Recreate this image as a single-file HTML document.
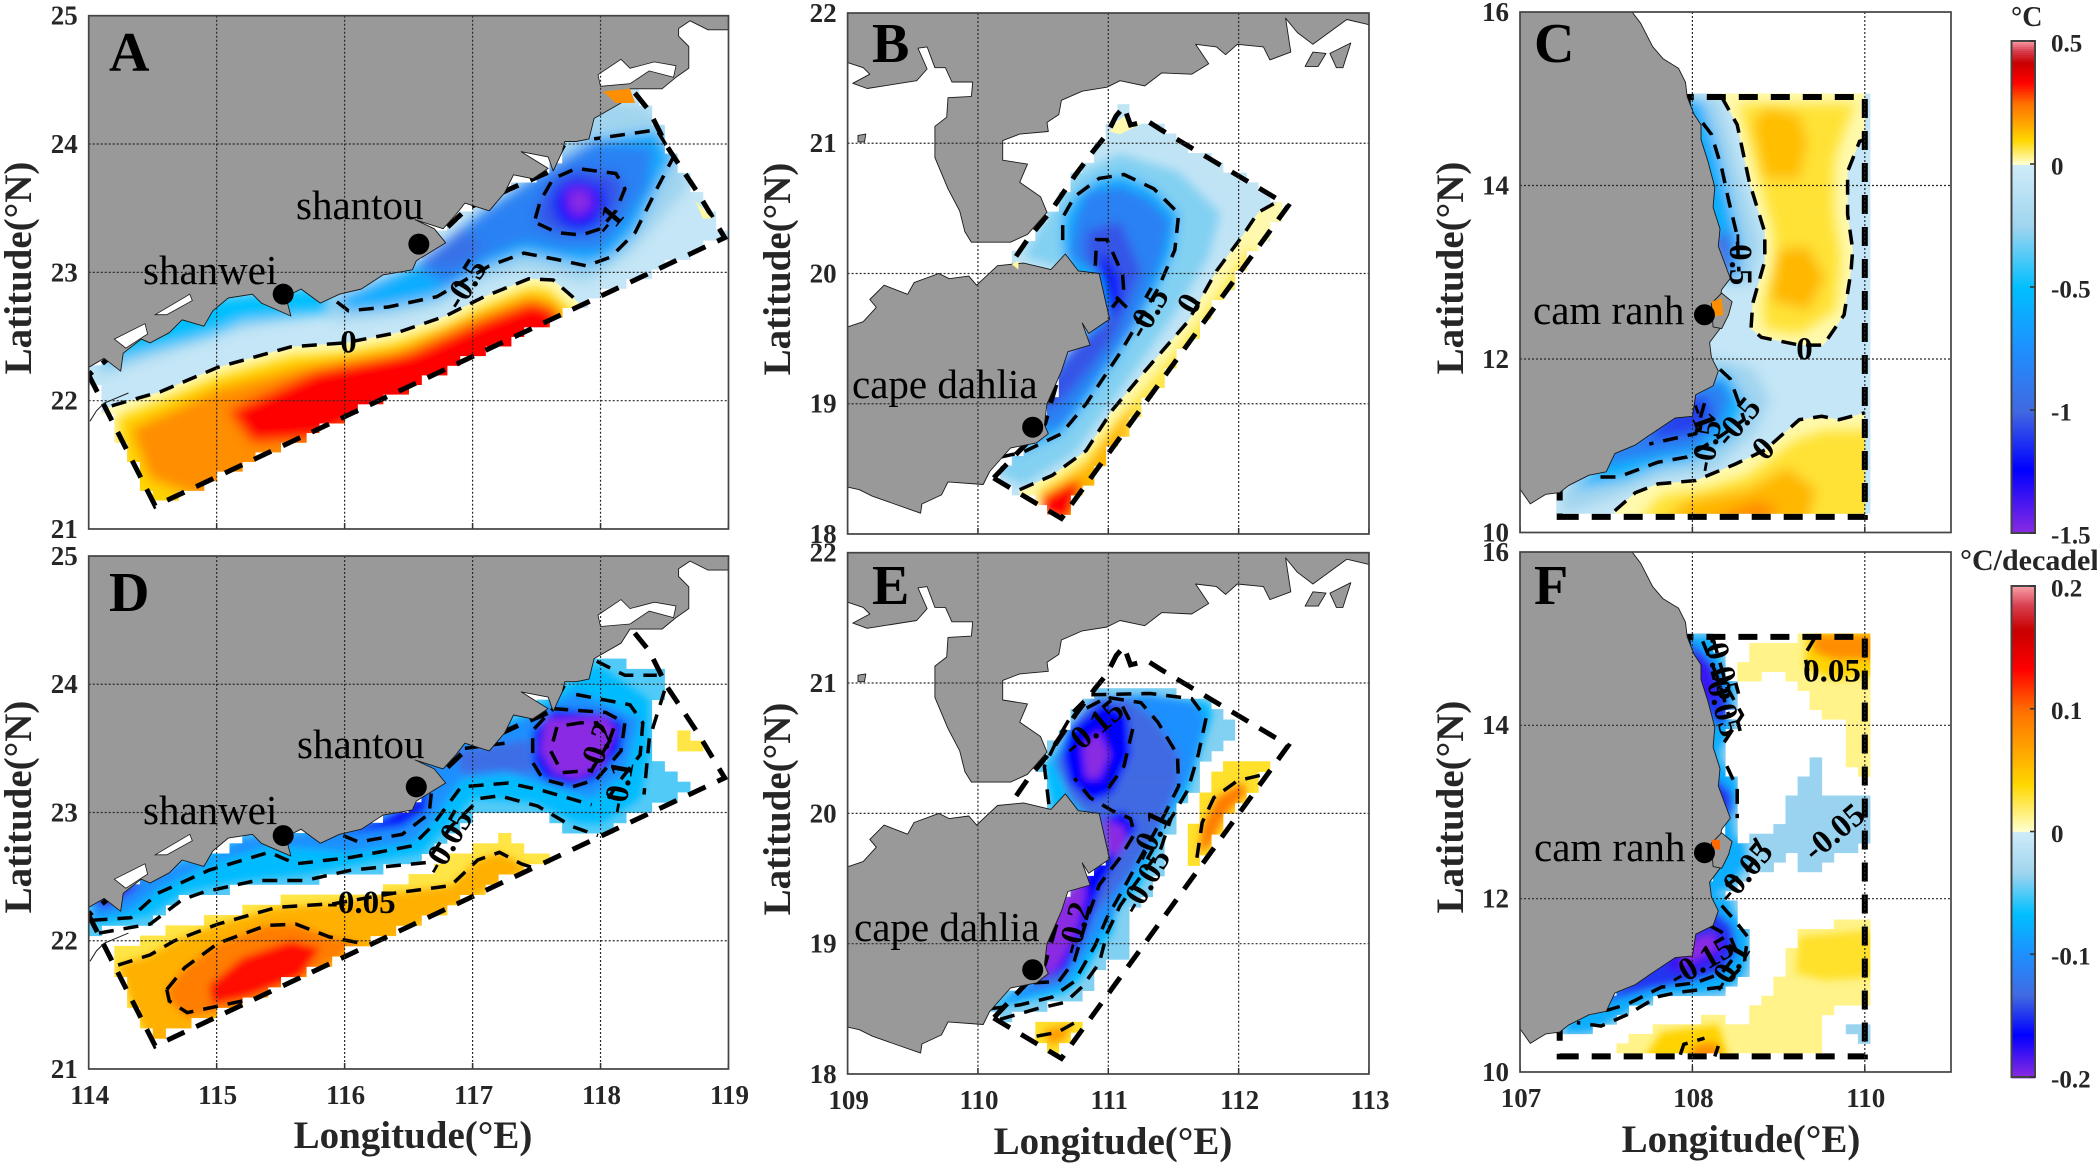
<!DOCTYPE html>
<html lang="en">
<head>
<meta charset="utf-8">
<title>Coastal SST anomaly and trend maps</title>
<style>
html,body{margin:0;padding:0;background:#fff;}
svg{display:block;font-family:"Liberation Serif",serif;}
.axis-title{font-size:39px;font-weight:bold;fill:#262626;}
.letter{font-size:56px;font-weight:bold;fill:#000;}
.city{font-size:41px;fill:#000;}
.unit{font-weight:bold;fill:#262626;}
</style>
</head>
<body>
<svg id="figure" xmlns="http://www.w3.org/2000/svg" width="2097" height="1163" viewBox="0 0 2097 1163">
<rect x="0" y="0" width="2097" height="1163" fill="#fff"/>
<defs id="defs"></defs>
<g id="plots"></g>
<g id="colorbars"></g>
<g>
<text class="letter" x="109" y="71">A</text>
<text class="letter" x="872" y="62">B</text>
<text class="letter" x="1534" y="62">C</text>
<text class="letter" x="109" y="611">D</text>
<text class="letter" x="872" y="604">E</text>
<text class="letter" x="1534" y="604">F</text>
<text class="city" x="143" y="284">shanwei</text>
<text class="city" x="296" y="219">shantou</text>
<text class="city" x="143" y="824">shanwei</text>
<text class="city" x="297" y="758">shantou</text>
<text class="city" x="852" y="398">cape dahlia</text>
<text class="city" x="854" y="941">cape dahlia</text>
<text class="city" x="1533" y="324">cam ranh</text>
<text class="city" x="1534" y="861">cam ranh</text>
<text class="axis-title" text-anchor="middle" transform="translate(31,268) rotate(-90)">Latitude(°N)</text>
<text class="axis-title" text-anchor="middle" transform="translate(31,807) rotate(-90)">Latitude(°N)</text>
<text class="axis-title" text-anchor="middle" transform="translate(790,269) rotate(-90)">Latitude(°N)</text>
<text class="axis-title" text-anchor="middle" transform="translate(790,809) rotate(-90)">Latitude(°N)</text>
<text class="axis-title" text-anchor="middle" transform="translate(1463,268) rotate(-90)">Latitude(°N)</text>
<text class="axis-title" text-anchor="middle" transform="translate(1463,807) rotate(-90)">Latitude(°N)</text>
<text class="axis-title" text-anchor="middle" x="413" y="1148">Longitude(°E)</text>
<text class="axis-title" text-anchor="middle" x="1113" y="1154">Longitude(°E)</text>
<text class="axis-title" text-anchor="middle" x="1741" y="1152">Longitude(°E)</text>
<text class="unit" x="2011" y="26" font-size="28">°C</text>
<text class="unit" x="1960" y="570" font-size="30">°C/decadel</text>
</g>
</svg>
<script>
/* ---------- colour scale ---------- */
const coldStops=[[0,'#d0ecf8'],[.17,'#9fd4ef'],[.336,'#00bfff'],[.5,'#1e90ff'],[.67,'#4169e1'],[.83,'#0000ff'],[1,'#8a2be2']];
const warmStops=[[0,'#ffffd0'],[.06,'#fff38a'],[.19,'#ffd700'],[.33,'#ffa500'],[.49,'#ff7000'],[.66,'#ff0000'],[.82,'#c80000'],[.92,'#d84050'],[1,'#f8a0a8']];

/* ---------- tick values and labels ---------- */
const lonTicksAD=[114,115,116,117,118,119];
const latTicksAD=[21,22,23,24,25];
const lonTicksBE=[109,110,111,112,113];
const latTicksBE=[18,19,20,21,22];
const lonTicksCF=[107,108,109];
const latTicksCF=[10,12,14,16];
const lonLabelsD=['114','115','116','117','118','119'];
const lonLabelsE=['109','110','111','112','113'];
const lonLabelsF=['107','108','110'];
const latLabelsAD=['21','22','23','24','25'];
const latLabelsBE=['18','19','20','21','22'];
const latLabelsCF=['10','12','14','16'];
const cbTicksTemp=[0.5,0,-0.5,-1,-1.5];
const cbLabelsTemp=['0.5','0','-0.5','-1','-1.5'];
const cbTicksTrend=[0.2,0.1,0,-0.1,-0.2];
const cbLabelsTrend=['0.2','0.1','0','-0.1','-0.2'];

/* ---------- land (lon,lat pairs) ---------- */
const landAD=[114,22.26,114.12,22.33,114.25,22.23,114.27,22.37,114.41,22.48,114.48,22.45,114.63,22.53,114.73,22.63,114.90,22.58,114.97,22.70,115.09,22.80,115.28,22.83,115.35,22.76,115.58,22.66,115.54,22.81,115.66,22.87,115.81,22.76,115.96,22.83,116.13,22.87,116.30,22.98,116.53,23.02,116.56,23.09,116.79,23.23,116.70,23.34,116.55,23.41,116.77,23.34,116.87,23.45,116.94,23.54,117.13,23.48,117.25,23.62,117.32,23.76,117.47,23.73,117.59,23.81,117.38,23.94,117.59,23.90,117.63,23.79,117.70,23.94,117.72,24.02,117.81,24.02,117.91,24.04,117.95,24.20,118.16,24.32,118.23,24.43,118.48,24.43,118.59,24.52,118.69,24.59,118.69,24.76,118.61,24.84,118.61,24.90,118.70,24.96,118.84,24.89,119,24.89,119,25,114,25];
const bayAD1=[117.98,24.54,118.16,24.66,118.23,24.59,118.42,24.64,118.59,24.61,118.57,24.52,118.38,24.57,118.23,24.47,118.00,24.45];
const bayAD2=[114.52,22.67,114.79,22.83,114.81,22.78,114.61,22.67];
const bayAD3=[114.2,22.48,114.44,22.6,114.46,22.52,114.29,22.41];
const coastFragAD=[114.01,21.84,114.06,21.92,114.12,21.98,114.31,22.06];
const landNorthBE=[109,22,109,21.62,109.12,21.58,109.17,21.53,109.04,21.46,109.15,21.42,109.53,21.48,109.61,21.57,109.54,21.73,109.61,21.74,109.67,21.58,109.75,21.58,109.80,21.47,109.96,21.47,109.95,21.36,109.77,21.35,109.76,21.20,109.67,21.13,109.67,20.89,109.77,20.65,109.86,20.48,109.90,20.32,109.95,20.24,110.12,20.24,110.25,20.24,110.38,20.30,110.53,20.47,110.48,20.59,110.32,20.70,110.38,20.84,110.19,20.87,110.19,21.02,110.32,21.07,110.54,21.09,110.53,21.16,110.62,21.22,110.64,21.33,110.80,21.40,110.99,21.43,111.09,21.48,111.28,21.44,111.41,21.54,111.64,21.53,111.77,21.61,111.67,21.76,111.83,21.74,111.90,21.68,111.99,21.76,112.19,21.74,112.24,21.64,112.40,21.70,112.36,21.96,112.45,21.85,112.57,21.76,112.83,21.95,113,21.91,113,22];
const landHainan=[109,19.59,109.12,19.63,109.22,19.74,109.17,19.80,109.28,19.91,109.46,19.84,109.51,19.93,109.70,20.00,109.78,19.96,109.93,19.98,109.99,19.91,110.15,20.06,110.35,20.08,110.56,20.03,110.67,20.15,110.77,20.02,110.93,20.00,111.01,19.65,110.85,19.54,110.80,19.62,110.86,19.45,110.69,19.40,110.64,19.25,110.53,19.00,110.51,18.84,110.54,18.77,110.45,18.70,110.25,18.66,110.09,18.48,110.04,18.38,109.77,18.40,109.72,18.30,109.57,18.23,109.56,18.16,109.36,18.23,109.19,18.29,109.09,18.34,109,18.36];
const isleBE1=[112.51,21.59,112.57,21.70,112.67,21.69,112.61,21.59];
const isleBE2=[112.70,21.69,112.86,21.77,112.80,21.58,112.75,21.58];
const isleBE3=[109.08,21.06,109.14,21.07,109.13,21.01,109.08,21.01];
const landCF=[107,16,107.65,16,107.70,15.87,107.77,15.60,107.83,15.46,107.92,15.35,107.96,15.19,107.97,15.02,108.01,14.82,108.05,14.70,108.05,14.53,108.09,14.28,108.13,13.98,108.12,13.75,108.16,13.50,108.15,13.30,108.22,12.93,108.17,12.80,108.15,12.60,108.16,12.35,108.10,12.19,108.11,12.02,108.15,11.86,108.12,11.69,108.02,11.59,108.00,11.34,107.90,11.32,107.75,11.12,107.67,11.01,107.55,10.91,107.50,10.70,107.40,10.66,107.28,10.54,107.23,10.46,107.15,10.44,107.06,10.33,107,10.50];
const isleCamRanh=[108.11,12.64,108.17,12.76,108.23,12.66,108.21,12.51,108.17,12.35,108.12,12.37];

/* ---------- study-domain boundaries ---------- */
const boundaryAD=[114,22.20,114.52,21.18,118.97,23.27,118.76,23.62,118.52,23.98,118.38,24.26,118.21,24.47,117.97,24.44,117.59,23.78,117.36,23.68,116.96,23.5,116.56,23.12,115.96,22.9,115.2,22.9,114.67,22.66,114.37,22.51];
const boundaryBE=[110.12,18.43,110.64,18.12,112.38,20.52,112.30,20.57,111.41,21.10,111.30,21.17,111.17,21.14,111.12,21.28,111.06,21.21,110.99,21.07,110.90,20.96,110.75,20.76,110.56,20.48,110.38,20.26,110.25,20.07,110.51,19.63,110.61,19.19,110.51,18.84];
const boundaryCF=[107.23,10.18,109,10.18,109,15.02,107.97,15.02,108.10,12.5,107.23,10.5];

/* ---------- panel A: temperature anomaly ---------- */
const contourA0=[114.18,21.96,114.56,22.07,115.01,22.26,115.58,22.42,116.00,22.45,116.41,22.53,116.79,22.66,117.09,22.81,117.44,22.95,117.63,22.94,117.78,22.81,117.85,22.74];
const contourAm05=[115.94,22.77,116.03,22.70,116.34,22.73,116.72,22.81,117.13,23.05,117.40,23.15,117.66,23.10,117.89,23.05,118.08,23.12,118.27,23.31,118.44,23.65,118.57,23.90,118.44,24.11,118.16,24.07,117.95,24.04];
const contourAm1=[117.49,23.42,117.53,23.56,117.63,23.73,117.81,23.81,118.12,23.77,118.19,23.65,118.12,23.48,118.00,23.34,117.85,23.29,117.66,23.31,117.51,23.38];
const warmA012=[114.22,21.87,114.56,22.00,115.01,22.19,115.58,22.35,116.00,22.38,116.41,22.46,116.79,22.59,117.09,22.74,117.44,22.88,117.59,22.87,117.74,22.73,117.85,22.67,114.52,21.09,114.29,21.36];
const warmA02=[114.33,21.78,115.01,22.09,115.66,22.26,116.41,22.38,117.02,22.65,117.44,22.81,117.63,22.76,117.74,22.62,117.09,22.06,115.96,21.62,114.90,21.23,114.48,21.39];
const warmA03=[115.09,21.92,115.77,22.23,116.53,22.38,117.09,22.63,117.47,22.77,117.66,22.70,117.66,22.45,116.72,22.06,115.77,21.70,115.28,21.67];
const coldAm025=[114.03,22.17,114.44,22.31,115.20,22.56,115.81,22.67,115.96,22.62,116.34,22.65,116.72,22.73,117.13,22.95,117.40,23.02,117.66,22.98,117.89,22.92,118.23,23.15,118.46,23.40,118.69,23.67,118.61,23.93,118.38,24.29,118.00,24.34,117.47,23.73,116.56,23.06,115.96,22.84,114.97,22.73,114.37,22.53];
const coldAm042=[114.06,22.26,114.44,22.38,114.97,22.52,115.20,22.62,115.88,22.68,115.88,22.90,114.97,22.80,114.37,22.60];
const coldAm05=[...contourAm05,117.59,23.81,116.56,23.06,115.96,22.80];
const coldAm075=[116.56,23.06,116.79,22.90,117.13,23.12,117.40,23.23,117.70,23.17,118.00,23.17,118.19,23.37,118.38,23.67,118.42,23.98,117.93,24.01,117.55,23.79,117.09,23.48];
const coldAm09=[116.55,23.05,116.91,23.05,117.09,23.20,116.91,23.34,116.79,23.23];
const coldAm125=[117.63,23.54,117.68,23.67,117.81,23.73,118.00,23.67,118.04,23.54,117.95,23.37,117.81,23.33,117.68,23.40];
const coldAm15=[117.74,23.65,117.91,23.65,117.95,23.51,117.81,23.42,117.74,23.51];
const spotA1=[118.02,24.41,118.23,24.43,118.27,24.32,118.12,24.32];
const spotA2=[118.74,23.56,118.80,23.42,118.87,23.42];

/* ---------- panel B ---------- */
const contourB0=[110.32,18.34,110.57,18.45,110.83,18.64,111.03,18.95,111.28,19.25,111.61,19.63,111.83,20.02,112.03,20.29,112.15,20.47,112.33,20.57];
const contourBm05=[110.17,18.59,110.35,18.63,110.64,18.77,110.83,19.00,111.09,19.39,111.38,19.88,111.51,20.18,111.54,20.46,111.35,20.65,111.12,20.76,110.93,20.73,110.74,20.59,110.65,20.43,110.65,20.21];
const contourBm1=[110.90,20.06,110.91,20.26,110.99,20.26,111.11,19.99,111.12,19.85,111.03,19.74];
const contourBm1b=[111.06,19.82,111.15,19.73];
const warmB01=[110.45,18.33,110.80,18.56,111.03,18.84,111.32,19.17,111.64,19.55,111.90,19.93,112.09,20.21,112.12,20.13,111.80,19.55,111.45,18.95,111.03,18.45,110.77,18.1,110.57,18.1];
const warmB02=[110.48,18.30,110.83,18.53,110.99,18.74,111.2,19.0,111.1,18.6,110.77,18.1,110.57,18.15];
const warmB03=[110.48,18.28,110.72,18.40,110.8,18.4,110.7,18.1,110.55,18.12];
const warmBtop=[111.01,21.09,111.07,21.17,111.14,21.22,111.17,21.17,111.28,21.16,111.09,21.07];
const coldBm025=[110.12,18.48,110.35,18.37,110.74,18.62,110.96,18.92,111.22,19.28,111.51,19.69,111.77,20.13,111.86,20.46,111.54,20.78,111.09,20.92,110.74,20.76,110.51,20.40,110.35,20.13,110.70,20.02,110.85,19.55,110.6,19.3,110.45,19.0,110.4,18.70];
const coldBm05=[...contourBm05,110.70,20.02,110.90,19.75,110.8,19.5,110.6,19.3,110.45,19.0,110.4,18.70];
const coldBm075=[110.54,18.77,110.67,18.86,110.93,19.22,111.19,19.58,111.41,20.10,111.48,20.40,111.32,20.57,111.09,20.67,110.83,20.62,110.74,20.40,110.70,20.13,110.99,19.96,110.98,19.65,110.75,19.45,110.55,19.2,110.45,18.95];
const coldBm095=[110.51,18.92,110.70,19.08,110.93,19.36,111.06,19.55,111.25,20.02,111.09,20.40,110.83,20.32,110.83,20.10,111.01,19.91,110.98,19.65,110.7,19.4,110.5,19.1];
const coldBm11=[110.93,20.02,110.96,20.18,111.09,19.96,111.09,19.74,111.01,19.69];
const spotB=[110.26,20.07,110.31,20.10,110.31,20.03];

/* ---------- panel C ---------- */
const contourC0N=[108.17,15.02,108.26,14.70,108.33,14.04,108.42,13.46,108.42,13.13,108.35,12.64,108.34,12.35,108.40,12.25,108.62,12.16,108.76,12.16,108.88,12.51,108.92,13.01,108.93,13.26,108.90,13.67,108.90,14.16,108.97,14.51,109,14.53];
const contourC0S=[107.55,10.25,107.67,10.46,107.80,10.56,108.02,10.60,108.25,10.79,108.42,10.95,108.62,11.30,108.75,11.34,108.85,11.30,109,11.38];
const contourCm05N=[108.06,14.72,108.11,14.59,108.17,14.20,108.21,13.83,108.26,13.42,108.27,13.01];
const contourCm05S=[108.16,11.88,108.22,11.77,108.27,11.49,108.30,11.30,108.17,11.12,107.97,10.87,107.80,10.81,107.57,10.64,107.42,10.64];
const contourCm1=[108.07,11.49,108.02,11.14,107.75,11.02];
const warmCN01=[108.27,14.94,108.36,14.28,108.47,13.46,108.48,13.13,108.41,12.64,108.42,12.35,108.62,12.29,108.83,12.56,108.86,13.17,108.82,13.67,108.82,14.28,108.90,14.74,108.95,14.94];
const warmCpeak1=[108.35,14.70,108.42,14.08,108.62,14.08,108.67,14.49,108.62,14.82,108.42,14.90];
const warmCpeak2=[108.50,13.26,108.45,12.68,108.67,12.56,108.77,12.93,108.67,13.30];
const warmCS01=[107.72,10.21,107.82,10.43,108.07,10.50,108.32,10.66,108.60,11.07,108.77,11.18,109.1,11.18,109.1,10.1,107.72,10.1];
const warmCS02=[107.82,10.1,107.97,10.37,108.32,10.50,108.55,10.75,108.72,10.50,108.67,10.1];
const warmCS025=[108.02,10.1,108.37,10.37,108.50,10.29,108.42,10.1];
const coldCNm025=[107.97,15.02,108.15,15.02,108.22,14.57,108.32,13.83,108.40,13.34,108.35,12.88,108.22,12.84,108.15,13.30,108.07,14.49];
const coldCNm05=[107.9,15.00,108.05,14.98,108.15,14.41,108.22,13.83,108.28,13.34,108.27,12.97,108.22,12.88,108.08,13.46,107.98,14.49];
const coldCNm09=[108.1,13.42,108.22,13.46,108.23,12.97,108.17,12.97];
const coldCSm025=[107.25,10.21,107.50,10.37,107.82,10.62,108.12,10.70,108.37,11.16,108.45,11.53,108.35,11.90,108.12,12.02,107.25,10.50];
const coldCSm05=[107.30,10.50,107.60,10.60,107.82,10.77,108.02,10.83,108.22,11.09,108.32,11.44,108.20,11.86,108.05,11.77,107.95,11.59,107.65,11.12];
const coldCSm075=[107.45,10.75,107.82,10.89,108.02,10.95,108.17,11.24,108.23,11.57,108.15,11.77,107.95,11.61,107.7,11.2,107.45,10.95];
const coldCSm105=[107.72,11.05,108.02,11.14,108.12,11.36,108.07,11.59,107.95,11.53,107.85,11.36];
const spotC=[108.11,12.66,108.17,12.70,108.18,12.51,108.13,12.49];

/* ---------- panel D: trend ---------- */
const maskColdD=[114.08,22.07,114.48,22.13,114.75,22.32,115.20,22.41,115.73,22.46,116.19,22.55,116.60,22.60,116.94,22.88,117.02,23.02,117.47,23.02,117.63,22.96,117.81,22.83,118.00,22.83,118.31,23.02,118.72,23.19,118.50,23.36,118.42,23.45,118.42,23.88,118.50,23.98,118.50,24.09,118.04,24.19,117.93,24.23,117.47,23.82,116.56,23.42,116.56,23.08,116.11,22.89,115.20,22.80,114.97,22.65,114.71,22.65,114.41,22.49,114.01,22.34,114.03,22.07];
const maskWarmD=[114.18,21.92,114.67,22.09,114.94,22.16,115.47,22.32,116.38,22.41,116.91,22.68,117.04,22.77,117.27,22.82,117.40,22.68,117.59,22.66,117.47,22.57,117.32,22.52,116.94,22.34,116.75,22.21,116.38,22.09,116.07,21.93,115.66,21.73,115.20,21.53,114.97,21.44,114.52,21.22,114.46,21.31,114.33,21.53,114.23,21.79];
const maskWarmD2=[118.63,23.71,118.72,23.57,118.84,23.44,118.69,23.44,118.59,23.61];
const contourDw005=[114.23,21.81,114.48,21.89,114.67,22.00,115.01,22.13,115.47,22.26,115.92,22.29,116.38,22.37,116.83,22.43,117.04,22.63,117.21,22.69,117.38,22.60,117.47,22.57];
const contourDw01=[114.61,21.62,114.75,21.79,115.01,21.98,115.39,22.12,115.62,22.13,115.88,22.03,116.13,21.98];
const contourDw01b=[115.20,21.53,114.77,21.44,114.63,21.53,114.61,21.62];
const contourDc1=[114.08,22.06,114.48,22.13,114.73,22.32,114.90,22.38,115.31,22.47,115.69,22.47,116.05,22.55,116.64,22.61,116.83,22.89,117.06,23.11,117.21,23.13,117.51,23.05,117.78,22.89,117.98,22.82];
const contourDc2=[114.03,22.16,114.33,22.18,114.54,22.37,114.94,22.55,115.41,22.69,115.62,22.60,116.05,22.65,116.53,22.74,116.68,22.89,116.91,23.20,117.28,23.23,117.55,23.17,117.93,23.06];
const contourDc3=[115.99,22.82,116.11,22.77,116.45,22.83,116.66,22.99,116.68,23.17];
const contourDc4=[117.81,23.92,118.23,23.84,118.33,23.70,118.31,23.45,118.16,23.26,118.06,23.11];
const contourDring=[117.63,23.81,118.04,23.78,118.19,23.70,118.16,23.48,117.97,23.26,117.78,23.20,117.55,23.26,117.47,23.39,117.47,23.64];
const contourDinner=[117.85,23.70,117.66,23.67,117.61,23.48,117.70,23.31,117.93,23.33,118.08,23.57,117.97,23.70];
const contourDright=[118.50,23.95,118.38,23.57,118.34,23.14];
const contourDtop=[117.97,24.18,118.19,24.07,118.44,24.07];
const contourDbit=[116.94,23.50,117.25,23.54];
const warmD06=[...contourDw005,116.94,22.30,116.07,21.85,115.20,21.45,114.52,21.12,114.33,21.53];
const warmD10=[...contourDw01,115.66,21.68,115.20,21.48,114.77,21.40,114.63,21.53];
const warmD14=[114.94,21.65,115.20,21.87,115.58,22.0,115.81,21.94,115.66,21.72,115.24,21.56,114.97,21.50];
const coldDm07=[114.12,22.13,114.48,22.20,114.75,22.38,115.20,22.47,115.73,22.52,116.19,22.61,116.60,22.68,116.87,22.96,117.00,23.11,117.47,23.08,117.81,22.92,118.00,22.91,118.31,23.11,118.38,23.45,118.38,23.88,117.97,24.16,117.47,23.79,116.56,23.42,116.56,23.08,116.11,22.89,115.20,22.80,114.03,22.34,114.03,22.15];
const coldDm10=[114.03,22.16,114.33,22.24,114.54,22.40,114.94,22.60,115.41,22.74,116.05,22.69,116.53,22.77,116.68,22.92,116.91,23.26,117.28,23.30,117.93,23.11,118.19,23.30,118.31,23.73,117.81,23.95,117.47,23.76,116.56,23.42,116.56,23.08,116.11,22.89,115.20,22.80,114.97,22.65,114.71,22.61,114.41,22.49,114.03,22.34];
const coldDm13=[116.87,23.48,117.44,23.57,117.47,23.30,117.21,23.33,116.91,23.30];
const coldDm16=[115.95,22.83,116.45,22.89,116.64,23.02,116.66,23.20,116.56,23.10,116.30,22.95,116.11,22.89];
const coldDm22=[117.57,23.73,118.04,23.75,118.12,23.64,118.00,23.36,117.81,23.26,117.63,23.31,117.53,23.48];
const coldDwest=[114.03,22.31,114.14,22.26,114.37,22.40,114.41,22.46,114.06,22.34];

/* ---------- panel E ---------- */
const maskColdE=[110.17,18.42,110.67,18.55,110.77,18.59,110.93,18.74,110.96,18.87,111.12,18.90,111.12,19.11,111.17,19.20,111.17,19.29,111.32,19.35,111.40,19.57,111.41,19.72,111.51,19.90,111.51,20.02,111.67,20.21,111.72,20.36,111.83,20.48,111.96,20.57,112.07,20.63,111.96,20.73,111.77,20.88,111.57,20.91,111.22,20.95,110.86,20.92,110.74,20.76,110.62,20.60,110.48,20.38,110.53,19.99,110.62,19.93,110.98,19.65,110.75,19.45,110.5,19.1,110.45,18.77,110.09,18.52];
const maskWarmE1=[111.57,19.66,111.62,19.87,111.72,20.12,111.77,20.22,111.93,20.37,112.03,20.42,112.22,20.42,112.22,20.34,112.07,20.15,111.96,20.05,111.90,19.96,111.80,19.75,111.70,19.69,111.62,19.52];
const maskWarmE2=[110.42,18.36,110.77,18.42,110.77,18.36,110.70,18.27,110.62,18.26,110.62,18.16,110.57,18.18,110.45,18.27];
const maskWarmE3=[111.08,21.23,111.19,21.23,111.19,21.16,111.08,21.16];
const warmE10=[111.72,19.90,111.83,20.12,112.03,20.24,112.06,20.15,111.90,19.99,111.78,19.75,111.70,19.69];
const warmE07=[110.50,18.34,110.72,18.38,110.66,18.26,110.55,18.22];
const coldEm07=[110.09,18.50,110.67,18.62,110.80,18.74,110.91,18.93,111.03,19.08,111.06,19.26,111.25,19.45,111.35,19.69,111.45,19.93,111.61,20.15,111.70,20.45,111.80,20.76,111.77,20.85,111.48,20.89,110.90,20.89,110.51,20.36,110.57,20.02,110.98,19.65,110.75,19.45,110.5,19.1,110.45,18.77];
const coldEm10=[110.15,18.53,110.65,18.67,110.80,18.87,111.03,19.20,111.09,19.35,111.32,19.72,111.48,20.02,111.64,20.30,111.75,20.73,111.67,20.85,111.32,20.91,110.90,20.89,110.70,20.66,110.57,20.39,110.70,20.15,110.83,19.99,110.98,19.65,110.75,19.45,110.5,19.1,110.45,18.74];
const coldEm133=[110.38,18.65,110.64,18.71,110.77,18.93,110.93,19.26,111.19,19.57,111.38,19.87,111.54,20.24,111.54,20.45,111.35,20.73,111.15,20.88,110.90,20.88,110.74,20.70,110.61,20.39,110.70,20.12,110.83,19.99,110.98,19.65,110.75,19.45,110.5,19.1,110.45,18.74];
const coldEm165a=[110.70,20.63,110.96,20.85,111.15,20.76,111.17,20.45,111.03,20.15,110.86,20.09,110.70,20.24,110.65,20.45];
const coldEm165b=[110.45,18.71,110.67,18.80,110.80,19.05,110.95,19.45,111.09,19.69,111.22,19.90,111.12,20.02,110.96,19.96,110.99,19.69,110.8,19.5,110.62,19.3,110.5,19.0];
const coldEm21a=[110.80,20.51,110.93,20.63,111.01,20.45,110.93,20.27,110.83,20.27];
const coldEm21b=[110.48,18.87,110.48,19.02,110.6,19.3,110.8,19.52,110.83,19.38,110.74,19.05,110.62,18.82,110.48,18.73];
const coldEm21c=[110.96,19.96,111.12,19.90,111.14,19.78,111.06,19.66,110.99,19.72];
const contourEw1=[111.68,19.66,111.72,19.93,111.81,20.12,111.99,20.25,112.20,20.30];
const contourEw2=[110.45,18.29,110.61,18.32,110.77,18.41];
const contourEc1=[110.17,18.42,110.45,18.50,110.67,18.55,110.80,18.67,110.93,18.85,110.99,19.08,111.09,19.29,111.20,19.45,111.40,19.72,111.48,19.96,111.61,20.18,111.69,20.45,111.75,20.73,111.64,20.88,111.32,20.92,110.86,20.91,110.74,20.79,110.61,20.57,110.51,20.36,110.55,20.02];
const contourEc2=[110.09,18.50,110.32,18.53,110.57,18.59,110.74,18.71,110.90,18.99,110.99,19.20,111.11,19.41,111.28,19.72,111.43,19.99,111.54,20.21,111.53,20.45,111.38,20.70,111.25,20.85,110.99,20.89,110.80,20.79];
const contourEc3=[110.43,18.70,110.62,18.71,110.74,18.87,110.83,19.17,110.93,19.45,111.09,19.66,111.20,19.84,111.17,19.96,111.03,20.02,110.86,20.12,110.74,20.27];
const contourEc3b=[111.11,20.82,111.19,20.66,111.12,20.36,110.99,20.18];

/* ---------- panel F ---------- */
const maskColdF1=[107.97,15.04,108.12,15.04,108.17,14.76,108.25,14.44,108.22,14.12,108.23,13.94,108.16,13.71,108.17,13.57,108.26,13.39,108.27,13.16,108.23,12.93,108.25,12.66,108.37,12.72,108.45,12.77,108.55,12.93,108.56,13.11,109,13.14,109,12.59,108.85,12.56,108.75,12.38,108.57,12.29,108.62,12.52,108.51,12.52,108.50,12.29,108.36,12.27,108.26,12.24,108.22,12.11,108.12,12.06,108.23,11.99,108.23,11.88,108.33,11.60,108.33,11.42,108.30,11.10,108.17,10.92,107.80,10.87,107.60,10.66,107.42,10.46,107.26,10.43,107.2,10.55,107.45,10.75,107.7,11.15,107.98,11.6,108.08,12.0,108.08,12.2,108.2,12.84,108.1,13.39,108.08,13.94,108.0,14.67];
const maskColdF2=[108.56,13.11,108.62,13.27,108.66,13.57,108.66,13.77,108.71,13.77,108.72,13.57,108.78,13.39,108.75,13.25,109,13.11];
const maskColdF3=[108.92,10.55,109,10.60,109,10.36,108.92,10.40];
const maskWarmFN=[108.27,14.58,108.32,14.97,108.57,14.94,108.67,15.04,109,15.04,109,13.43,108.90,13.53,108.86,13.71,108.91,13.98,108.75,14.12,108.62,14.40,108.57,14.56,108.40,14.58,108.26,14.44];
const maskWarmFS=[107.52,10.18,107.55,10.30,107.77,10.50,107.85,10.57,108.12,10.62,108.32,10.57,108.35,10.73,108.42,10.80,108.52,11.14,108.57,11.46,108.62,11.65,108.72,11.63,108.85,11.72,109,11.79,109,10.78,108.82,10.78,108.72,10.57,108.72,10.18];
const warmFN05=[108.67,15.1,109.1,15.1,109.1,14.58,108.82,14.53,108.65,14.67];
const warmFN09=[108.70,15.05,109.05,15.05,109.05,14.76,108.82,14.76,108.70,14.85];
const warmFS04=[108.62,11.56,109.1,11.65,109.1,11.10,108.77,11.06,108.60,11.14];
const warmFS05=[107.70,10.1,107.82,10.46,108.15,10.55,108.22,10.1];
const warmFS09=[107.95,10.1,108.02,10.32,108.15,10.34,108.16,10.1];
const coldFm08=[107.9,15.04,108.12,15.04,108.17,14.76,108.25,14.44,108.22,14.12,108.23,13.94,108.16,13.71,108.17,13.57,108.26,13.39,108.27,13.16,108.23,12.93,108.25,12.66,108.30,12.72,108.32,12.40,108.27,12.27,108.22,12.11,108.12,12.06,108.23,11.99,108.23,11.88,108.33,11.60,108.33,11.42,108.30,11.10,108.17,10.92,107.80,10.87,107.60,10.66,107.42,10.46,107.26,10.43,107.26,10.55,107.5,11.0,108.0,12.5];
const coldFm13a=[107.98,14.99,108.12,14.72,108.20,14.35,108.22,14.12,108.15,13.98,108.02,14.30];
const coldFm13b=[108.12,13.43,108.23,13.21,108.23,12.93,108.12,13.11];
const coldFm13c=[107.45,10.78,107.77,10.96,108.02,11.05,108.17,11.14,108.26,11.38,108.23,11.69,108.12,11.88,107.96,11.56,107.7,11.14];
const coldFm17a=[107.85,11.17,107.97,11.14,108.15,11.28,108.20,11.46,108.15,11.63,107.98,11.56,107.85,11.28];
const coldFm17b=[107.98,14.90,108.10,14.67,108.15,14.30,108.05,14.30];
const coldFm20=[107.98,11.51,108.12,11.60,108.15,11.42,107.93,11.21];
const contourFn1=[108.06,14.97,108.15,14.53,108.21,14.12];
const contourFn2=[108.12,15.0,108.20,14.44,108.29,14.12,108.17,13.76];
const contourFm1=[108.20,13.53,108.26,13.27,108.26,12.93];
const contourFm2=[108.36,12.70,108.40,12.56,108.32,12.33,108.17,12.11];
const contourFs1=[108.17,11.92,108.25,11.74,108.32,11.56,108.30,11.24,108.17,10.98,107.92,10.92,107.80,10.87,107.62,10.66,107.47,10.53,107.33,10.57];
const contourFs2=[108.10,11.69,108.22,11.56,108.26,11.37,108.17,11.14,108.02,11.03,107.82,10.98,107.62,10.78,107.50,10.71];
const contourFw1=[108.71,15.01,108.65,14.81,108.67,14.63];
const contourFw2=[107.93,10.20,107.95,10.32,108.07,10.39];
const contourFw3=[108.15,10.30,108.13,10.18];
const spotF=[108.11,12.68,108.16,12.68,108.16,12.56,108.12,12.58];

/* ---------- small helpers for closed shapes ---------- */
const closeRing=a=>[...a,a[0],a[1]];

/* ---------- panels ---------- */
const panels=[
{id:'a',box:[88.7,15.7,728.5,529],lonLim:[114,119],latLim:[21,25],lonTicks:lonTicksAD,lonLabels:[],latTicks:latTicksAD,latLabels:latLabelsAD,vmin:-1.5,vmax:.5,cell:[.1,.075],blur:6,
 land:[landAD],bays:[bayAD1,bayAD2,bayAD3],coastLines:[coastFragAD],boundary:boundaryAD,boundaryWidth:5,
 cold:{mask:[boundaryAD],base:-.06,layers:[[-.25,coldAm025],[-.5,coldAm042],[-.6,coldAm05],[-.85,coldAm075],[-.95,coldAm09],[-1.05,contourAm1],[-1.25,coldAm125],[-1.5,coldAm15]]},
 warm:{mask:[boundaryAD],smooth:[[...contourA0,117.9,22.6,114.5,21.0,114.1,21.9]],base:.01,layers:[[.1,warmA012],[.2,warmA02],[.33,warmA03]]},
 contours:[contourA0,contourAm05,closeRing(contourAm1)],spots:[[.2,spotA1],[.02,spotA2]],
 labels:[['0',116.03,22.46,0],['-0.5',116.94,22.91,-58],['-1',118.06,23.41,-50]],cities:[[115.52,22.83],[116.58,23.22]]},
{id:'b',box:[847.6,13,1369,534],lonLim:[109,113],latLim:[18,22],lonTicks:lonTicksBE,lonLabels:[],latTicks:latTicksBE,latLabels:latLabelsBE,vmin:-1.5,vmax:.5,cell:[.09,.075],blur:5,
 land:[landNorthBE,landHainan,isleBE1,isleBE2,isleBE3],bays:[],coastLines:[],boundary:boundaryBE,boundaryWidth:5,
 cold:{mask:[boundaryBE],base:-.08,layers:[[-.3,coldBm025],[-.6,coldBm05],[-.85,coldBm075],[-1.05,coldBm095],[-1.2,coldBm11]]},
 warm:{mask:[boundaryBE],smooth:[[...contourB0,112.4,20.5,110.64,18.0,110.32,18.2],warmBtop],base:.015,layers:[[.06,warmB01],[.14,warmB02],[.33,warmB03]]},
 contours:[contourB0,contourBm05,contourBm1,contourBm1b],spots:[[.02,spotB]],
 labels:[['-0.5',111.30,19.70,-60],['0',111.62,19.77,-60]],cities:[[110.42,18.82]]},
{id:'c',box:[1520,12,1951,532.5],lonLim:[107,109.5],latLim:[10,16],lonTicks:lonTicksCF,lonLabels:[],latTicks:latTicksCF,latLabels:latLabelsCF,vmin:-1.5,vmax:.5,cell:[.07,.11],blur:6,
 land:[landCF,isleCamRanh],bays:[],coastLines:[],boundary:boundaryCF,boundaryWidth:6,
 cold:{mask:[boundaryCF],base:-.06,layers:[[-.25,coldCNm025],[-.6,coldCNm05],[-1,coldCNm09],[-.25,coldCSm025],[-.55,coldCSm05],[-.85,coldCSm075],[-1.1,coldCSm105]]},
 warm:{mask:[boundaryCF],smooth:[[...contourC0N,109,15.1,108.17,15.1],[...contourC0S,109,10.1,107.55,10.1]],base:.015,layers:[[.07,warmCN01],[.13,warmCpeak1],[.14,warmCpeak2],[.07,warmCS01],[.14,warmCS02],[.2,warmCS025]]},
 contours:[contourC0N,contourC0S,contourCm05N,contourCm05S,contourCm1],spots:[[.2,spotC]],
 labels:[['-0.5',108.28,13.15,90],['0',108.65,12.12,0],['-0.5',108.08,11.0,-80],['-0.5',108.26,11.28,-50],['-1',108.06,11.34,70],['0',108.41,10.97,-45]],cities:[[108.07,12.51]]},
{id:'d',box:[88.7,556,728.5,1069],lonLim:[114,119],latLim:[21,25],lonTicks:lonTicksAD,lonLabels:lonLabelsD,latTicks:latTicksAD,latLabels:latLabelsAD,vmin:-.2,vmax:.2,cell:[.1,.08],blur:4,
 land:[landAD],bays:[bayAD1,bayAD2,bayAD3],coastLines:[coastFragAD],boundary:boundaryAD,boundaryWidth:5,
 cold:{mask:[maskColdD],base:-.05,layers:[[-.07,coldDm07],[-.1,coldDm10],[-.13,coldDm13],[-.16,coldDm16],[-.16,contourDring],[-.22,coldDm22],[-.18,coldDwest]]},
 warm:{mask:[maskWarmD,maskWarmD2],base:.025,layers:[[.06,warmD06],[.09,warmD10],[.13,warmD14]]},
 contours:[contourDw005,contourDw01,contourDw01b,contourDc1,contourDc2,contourDc3,contourDc4,closeRing(contourDring),closeRing(contourDinner),contourDright,contourDtop,contourDbit],spots:[],
 labels:[['-0.05',116.80,22.77,-60],['-0.05',116.13,22.30,0],['-0.2',117.97,23.50,-70],['-0.1',118.14,23.20,-80]],cities:[[115.52,22.82],[116.56,23.20]]},
{id:'e',box:[847.6,552.7,1369,1074],lonLim:[109,113],latLim:[18,22],lonTicks:lonTicksBE,lonLabels:lonLabelsE,latTicks:latTicksBE,latLabels:latLabelsBE,vmin:-.2,vmax:.2,cell:[.09,.08],blur:4,
 land:[landNorthBE,landHainan,isleBE1,isleBE2,isleBE3],bays:[],coastLines:[],boundary:boundaryBE,boundaryWidth:5,
 cold:{mask:[maskColdE],base:-.04,layers:[[-.07,coldEm07],[-.1,coldEm10],[-.133,coldEm133],[-.165,coldEm165a],[-.165,coldEm165b],[-.21,coldEm21a],[-.21,coldEm21b],[-.21,coldEm21c]]},
 warm:{mask:[maskWarmE1,maskWarmE2,maskWarmE3],base:.03,layers:[[.09,warmE10],[.07,warmE07]]},
 contours:[contourEw1,contourEw2,contourEc1,contourEc2,contourEc3,contourEc3b],spots:[],
 labels:[['-0.15',110.88,20.66,-40],['-0.2',110.74,19.12,-75],['-0.1',111.32,19.83,-65],['-0.05',111.28,19.48,-60]],cities:[[110.42,18.80]]},
{id:'f',box:[1520,552,1951,1072],lonLim:[107,109.5],latLim:[10,16],lonTicks:lonTicksCF,lonLabels:lonLabelsF,latTicks:latTicksCF,latLabels:latLabelsCF,vmin:-.2,vmax:.2,cell:[.07,.11],blur:4,
 land:[landCF,isleCamRanh],bays:[],coastLines:[],boundary:boundaryCF,boundaryWidth:6,
 cold:{mask:[maskColdF1,maskColdF2,maskColdF3],base:-.035,layers:[[-.08,coldFm08],[-.15,coldFm13a],[-.15,coldFm13b],[-.15,coldFm13c],[-.18,coldFm17a],[-.18,coldFm17b],[-.21,coldFm20]]},
 warm:{mask:[maskWarmFN,maskWarmFS],base:.012,layers:[[.04,warmFN05],[.08,warmFN09],[.03,warmFS04],[.04,warmFS05],[.08,warmFS09]]},
 contours:[contourFn1,contourFn2,contourFm1,contourFm2,contourFs1,contourFs2,contourFw1,contourFw2,contourFw3],spots:[[.1,spotF]],
 labels:[['-0.05',108.17,14.69,75],['-0.05',108.18,14.26,75],['0.05',108.81,14.63,0],['-0.05',108.82,12.77,-40],['-0.05',108.30,12.31,-50],['-0.15',108.05,11.28,-30],['-0.1',108.21,11.21,-60]],cities:[[108.07,12.53]]}
];

/* ---------- rendering ---------- */
const NS='http://www.w3.org/2000/svg';
const defs=document.getElementById('defs');
const plots=document.getElementById('plots');
const colorbars=document.getElementById('colorbars');

function make(tag,attrs,parent){
  const n=document.createElementNS(NS,tag);
  for(const k in attrs){n.setAttribute(k,attrs[k]);}
  parent.appendChild(n);
  return n;
}
function xAxis(p,lon){return p.box[0]+(lon-p.lonLim[0])/(p.lonLim[1]-p.lonLim[0])*(p.box[2]-p.box[0]);}
function yAxis(p,lat){return p.box[3]-(lat-p.latLim[0])/(p.latLim[1]-p.latLim[0])*(p.box[3]-p.box[1]);}
function project(p,flat){
  const out=[];
  for(let i=0;i<flat.length;i+=2){out.push(xAxis(p,flat[i]).toFixed(1)+','+yAxis(p,flat[i+1]).toFixed(1));}
  return out.join(' ');
}
function mix(a,b,t){
  const pa=parseInt(a.slice(1),16),pb=parseInt(b.slice(1),16);
  const ch=s=>Math.round(((pa>>s)&255)*(1-t)+((pb>>s)&255)*t);
  return 'rgb('+ch(16)+','+ch(8)+','+ch(0)+')';
}
function ramp(stops,t){
  t=Math.max(0,Math.min(1,t));
  for(let i=1;i<stops.length;i++){
    if(t<=stops[i][0]){return mix(stops[i-1][1],stops[i][1],(t-stops[i-1][0])/(stops[i][0]-stops[i-1][0]));}
  }
  return stops[stops.length-1][1];
}
function colorOf(v,vmin,vmax){return v>=0?ramp(warmStops,v/vmax):ramp(coldStops,v/vmin);}
function inside(poly,x,y){
  let hit=false;
  const n=poly.length/2;
  for(let i=0,j=n-1;i<n;j=i++){
    const xi=poly[2*i],yi=poly[2*i+1],xj=poly[2*j],yj=poly[2*j+1];
    if((yi>y)!==(yj>y)&&x<(xj-xi)*(y-yi)/(yj-yi)+xi){hit=!hit;}
  }
  return hit;
}

function drawField(p,parent,f,kind){
  const maskId='blocks-'+p.id+'-'+kind;
  const clip=make('clipPath',{id:maskId},defs);
  
  
  const dLon=p.cell[0],dLat=p.cell[1];
  for(let lon=p.lonLim[0];lon<p.lonLim[1];lon+=dLon){
    for(let lat=p.latLim[0];lat<p.latLim[1];lat+=dLat){
      if(f.mask.some(m=>inside(m,lon+dLon/2,lat+dLat/2))){
        const x=xAxis(p,lon),y=yAxis(p,lat+dLat);
        const r=make('rect',{x:x.toFixed(1),y:y.toFixed(1),width:(xAxis(p,lon+dLon)-x+.4).toFixed(1),height:(yAxis(p,lat)-y+.4).toFixed(1)},clip);
        
        
      }
    }
  }
  const outer=make('g',{'clip-path':'url(#'+maskId+')'},parent);
  
  
  let host=outer;
  if(f.smooth){
    const smoothId='smooth-'+p.id+'-'+kind;
    const sc=make('clipPath',{id:smoothId},defs);
    
    
    f.smooth.forEach(s=>{
      const sp=make('polygon',{points:project(p,s)},sc);
      
      
    });
    host=make('g',{'clip-path':'url(#'+smoothId+')'},outer);
    
    
  }
  const base=make('rect',{x:p.box[0],y:p.box[1],width:p.box[2]-p.box[0],height:p.box[3]-p.box[1],fill:colorOf(f.base,p.vmin,p.vmax)},host);
  
  
  const blurId='blur-'+p.id+'-'+kind;
  const flt=make('filter',{id:blurId,filterUnits:'userSpaceOnUse',x:p.box[0]-40,y:p.box[1]-40,width:p.box[2]-p.box[0]+80,height:p.box[3]-p.box[1]+80},defs);
  
  
  const gb=make('feGaussianBlur',{stdDeviation:p.blur},flt);
  
  
  const soft=make('g',{filter:'url(#'+blurId+')'},host);
  
  
  f.layers.forEach(l=>{
    const poly=make('polygon',{points:project(p,l[1]),fill:colorOf(l[0],p.vmin,p.vmax)},soft);
    
    
  });
}

panels.forEach(p=>{
  const g=make('g',{},plots);
  
  
  const clipId='plot-clip-'+p.id;
  const cp=make('clipPath',{id:clipId},defs);
  
  
  const cpr=make('rect',{x:p.box[0],y:p.box[1],width:p.box[2]-p.box[0],height:p.box[3]-p.box[1]},cp);
  
  
  const bg=make('rect',{x:p.box[0],y:p.box[1],width:p.box[2]-p.box[0],height:p.box[3]-p.box[1],fill:'#fff'},g);
  
  
  const plot=make('g',{'clip-path':'url(#'+clipId+')'},g);
  
  

  drawField(p,plot,p.cold,'cold');
  drawField(p,plot,p.warm,'warm');

  p.contours.forEach(c=>{
    const line=make('polyline',{points:project(p,c),fill:'none',stroke:'#000','stroke-width':3.5,'stroke-dasharray':'15 10'},plot);
    
    
  });
  const bd=make('polygon',{points:project(p,p.boundary),fill:'none',stroke:'#000','stroke-width':p.boundaryWidth,'stroke-dasharray':'19 13'},plot);
  
  

  p.land.forEach(l=>{
    const land=make('polygon',{points:project(p,l),fill:'#999999',stroke:'#1a1a1a','stroke-width':.9,'stroke-linejoin':'round'},plot);
    
    
  });
  p.bays.forEach(b=>{
    const bay=make('polygon',{points:project(p,b),fill:'#fff',stroke:'#1a1a1a','stroke-width':.8},plot);
    
    
  });
  p.coastLines.forEach(b=>{
    const cl=make('polyline',{points:project(p,b),fill:'none',stroke:'#1a1a1a','stroke-width':1},plot);
    
    
  });
  p.spots.forEach(s=>{
    const sp=make('polygon',{points:project(p,s[1]),fill:colorOf(s[0],p.vmin,p.vmax)},plot);
    
    
  });

  p.lonTicks.forEach(t=>{
    const x=xAxis(p,t);
    const gl=make('line',{x1:x,x2:x,y1:p.box[1],y2:p.box[3],stroke:'#2a2a2a','stroke-width':1.2,'stroke-dasharray':'2 2'},plot);
    
    
    const tk=make('line',{x1:x,x2:x,y1:p.box[3],y2:p.box[3]-6,stroke:'#333','stroke-width':1.5},plot);
    
    
  });
  p.latTicks.forEach(t=>{
    const y=yAxis(p,t);
    const gl=make('line',{x1:p.box[0],x2:p.box[2],y1:y,y2:y,stroke:'#2a2a2a','stroke-width':1.2,'stroke-dasharray':'2 2'},plot);
    
    
  });

  p.labels.forEach(l=>{
    const x=xAxis(p,l[1]),y=yAxis(p,l[2]);
    const t=make('text',{x:x,y:y,'text-anchor':'middle',dy:'.33em','font-size':33,'font-weight':'bold',fill:'#000',transform:'rotate('+l[3]+' '+x+' '+y+')'},plot);
    
    
    t.textContent=l[0];
  });
  p.cities.forEach(c=>{
    const dot=make('circle',{cx:xAxis(p,c[0]),cy:yAxis(p,c[1]),r:10.5,fill:'#000'},plot);
    
    
  });

  const frame=make('rect',{x:p.box[0],y:p.box[1],width:p.box[2]-p.box[0],height:p.box[3]-p.box[1],fill:'none',stroke:'#444','stroke-width':1.7},g);
  
  

  p.latLabels.forEach((lab,i)=>{
    const t=make('text',{x:p.box[0]-11,y:yAxis(p,p.latTicks[i]),dy:'.33em','text-anchor':'end','font-size':27,'font-weight':'bold',fill:'#262626'},g);
    
    
    t.textContent=lab;
  });
  p.lonLabels.forEach((lab,i)=>{
    const t=make('text',{x:xAxis(p,p.lonTicks[i])+1,y:p.box[3]+35,'text-anchor':'middle','font-size':27,'font-weight':'bold',fill:'#262626'},g);
    
    
    t.textContent=lab;
  });
});

/* ---------- colour bars ---------- */
const bars=[
 {id:'temperature',x:2011.5,w:23.5,top:41,bottom:533,vmin:-1.5,vmax:.5,ticks:cbTicksTemp,labels:cbLabelsTemp},
 {id:'trend',x:2011.5,w:23.5,top:586,bottom:1077,vmin:-.2,vmax:.2,ticks:cbTicksTrend,labels:cbLabelsTrend}
];
function barY(b,v){return b.top+(b.vmax-v)/(b.vmax-b.vmin)*(b.bottom-b.top);}
bars.forEach(b=>{
  const g=make('g',{},colorbars);
  
  
  for(let y=b.top;y<b.bottom;y+=2){
    const v=b.vmax-(y+1-b.top)/(b.bottom-b.top)*(b.vmax-b.vmin);
    const seg=make('rect',{x:b.x,y:y,width:b.w,height:2.4,fill:colorOf(v,b.vmin,b.vmax)},g);
    
    
  }
  const fr=make('rect',{x:b.x,y:b.top,width:b.w,height:b.bottom-b.top,fill:'none',stroke:'#444','stroke-width':2},g);
  
  
  b.ticks.forEach((v,i)=>{
    const y=barY(b,v);
    const tk=make('line',{x1:b.x+b.w-5,x2:b.x+b.w,y1:y,y2:y,stroke:'#333','stroke-width':1.6},g);
    
    
    const t=make('text',{x:2051,y:y+2,dy:'.33em','font-size':25,'font-weight':'bold',fill:'#262626'},g);
    
    
    t.textContent=b.labels[i];
  });
});
</script>
</body>
</html>
